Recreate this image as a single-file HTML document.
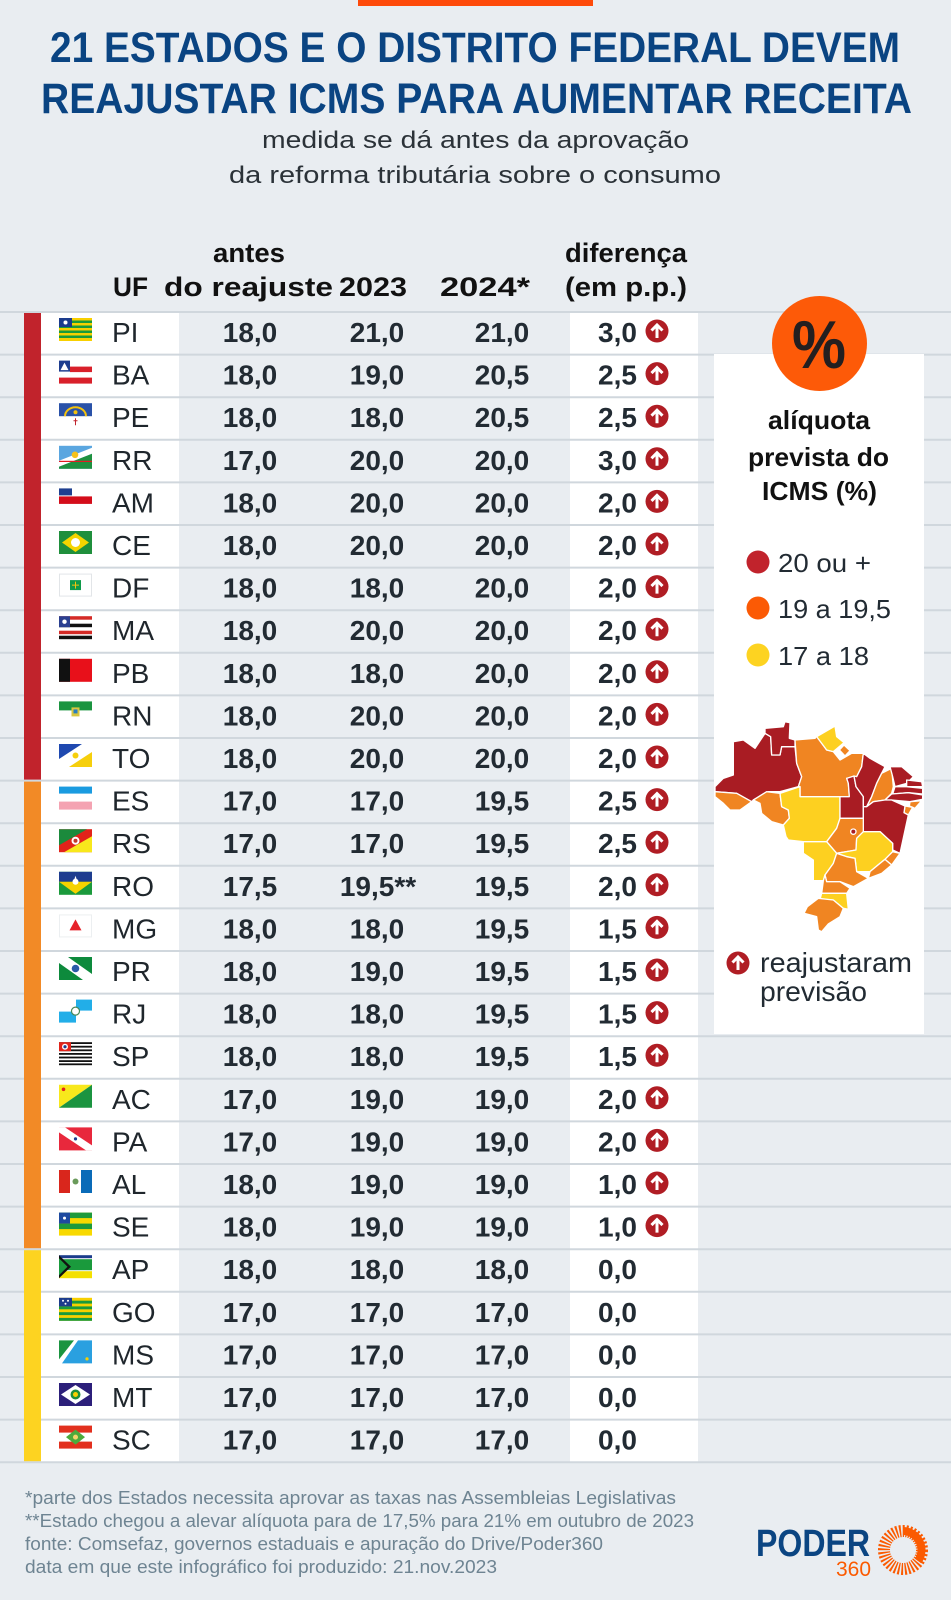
<!DOCTYPE html>
<html><head><meta charset="utf-8"><style>
html,body{margin:0;padding:0;background:#e9edf1;}
svg{display:block;}
text{font-family:"Liberation Sans",Arial,sans-serif;}
.uf{font-size:28px;fill:#1f262c;}
.n{font-size:28px;font-weight:bold;fill:#222b33;text-anchor:middle;}
.h{font-size:27px;font-weight:bold;fill:#111;}
.t{font-size:43px;font-weight:bold;fill:#0a4482;}
.s{font-size:24px;fill:#2b3238;}
.f{font-size:18px;fill:#6e8492;}
.lg{font-size:26px;fill:#222b33;}
.lt{font-size:26px;font-weight:bold;fill:#111;}
</style></head><body>
<svg width="951" height="1600" viewBox="0 0 951 1600" xmlns="http://www.w3.org/2000/svg">
<defs>
<g id="arr"><circle r="11.5" fill="#b01d24"/><path d="M0 7V-5.5M-5.5 -0.5L0 -6L5.5 -0.5" stroke="#fff" stroke-width="3" fill="none" stroke-linecap="butt"/></g>
</defs>
<rect width="951" height="1600" fill="#e9edf1"/>
<rect x="358" y="0" width="235" height="6" fill="#fe4a0a"/>
<text class="t" x="50" y="62" textLength="850" lengthAdjust="spacingAndGlyphs">21 ESTADOS E O DISTRITO FEDERAL DEVEM</text>
<text class="t" x="41" y="113" textLength="871" lengthAdjust="spacingAndGlyphs">REAJUSTAR ICMS PARA AUMENTAR RECEITA</text>
<text class="s" x="262" y="148" textLength="427" lengthAdjust="spacingAndGlyphs">medida se dá antes da aprovação</text>
<text class="s" x="229" y="183" textLength="492" lengthAdjust="spacingAndGlyphs">da reforma tributária sobre o consumo</text>

<text class="h" x="213" y="262" textLength="72" lengthAdjust="spacingAndGlyphs">antes</text>
<text class="h" x="565" y="262" textLength="122" lengthAdjust="spacingAndGlyphs">diferença</text>
<text class="h" x="113" y="296" textLength="35" lengthAdjust="spacingAndGlyphs">UF</text>
<text class="h" x="164" y="296" textLength="169" lengthAdjust="spacingAndGlyphs">do reajuste</text>
<text class="h" x="339" y="296" textLength="68" lengthAdjust="spacingAndGlyphs">2023</text>
<text class="h" x="440" y="296" textLength="90" lengthAdjust="spacingAndGlyphs">2024*</text>
<text class="h" x="565" y="296" textLength="122" lengthAdjust="spacingAndGlyphs">(em p.p.)</text>

<rect x="41" y="312" width="138" height="1150" fill="#fff"/>
<rect x="570" y="312" width="128" height="1150" fill="#fff"/>
<g stroke="#d0d7dd" stroke-width="2">
<line x1="0" x2="951" y1="312" y2="312"/><line x1="0" x2="951" y1="354.6" y2="354.6"/><line x1="0" x2="951" y1="397.2" y2="397.2"/><line x1="0" x2="951" y1="439.8" y2="439.8"/><line x1="0" x2="951" y1="482.4" y2="482.4"/><line x1="0" x2="951" y1="525" y2="525"/><line x1="0" x2="951" y1="567.6" y2="567.6"/><line x1="0" x2="951" y1="610.2" y2="610.2"/><line x1="0" x2="951" y1="652.8" y2="652.8"/><line x1="0" x2="951" y1="695.4" y2="695.4"/><line x1="0" x2="951" y1="738" y2="738"/><line x1="0" x2="951" y1="780.6" y2="780.6"/><line x1="0" x2="951" y1="823.2" y2="823.2"/><line x1="0" x2="951" y1="865.8" y2="865.8"/><line x1="0" x2="951" y1="908.4" y2="908.4"/><line x1="0" x2="951" y1="951" y2="951"/><line x1="0" x2="951" y1="993.6" y2="993.6"/><line x1="0" x2="951" y1="1036.2" y2="1036.2"/><line x1="0" x2="951" y1="1078.8" y2="1078.8"/><line x1="0" x2="951" y1="1121.4" y2="1121.4"/><line x1="0" x2="951" y1="1164" y2="1164"/><line x1="0" x2="951" y1="1206.6" y2="1206.6"/><line x1="0" x2="951" y1="1249.2" y2="1249.2"/><line x1="0" x2="951" y1="1291.8" y2="1291.8"/><line x1="0" x2="951" y1="1334.4" y2="1334.4"/><line x1="0" x2="951" y1="1377" y2="1377"/><line x1="0" x2="951" y1="1419.6" y2="1419.6"/><line x1="0" x2="951" y1="1462.2" y2="1462.2"/>
</g>
<rect x="24" y="313" width="17" height="466.6" fill="#c1232c"/>
<rect x="24" y="781.6" width="17" height="466.6" fill="#f28a26"/>
<rect x="24" y="1250.2" width="17" height="211" fill="#fdd321"/>

<!-- Legend panel -->
<rect x="714" y="354" width="210" height="680" fill="#fff"/>
<circle cx="819.5" cy="343.5" r="47.5" fill="#fd5a08"/>
<text x="792" y="368" font-size="68" font-weight="bold" fill="#231f20" textLength="54" lengthAdjust="spacingAndGlyphs">%</text>
<text class="lt" x="768" y="429" textLength="102" lengthAdjust="spacingAndGlyphs">alíquota</text>
<text class="lt" x="748" y="466" textLength="141" lengthAdjust="spacingAndGlyphs">prevista do</text>
<text class="lt" x="762" y="500" textLength="115" lengthAdjust="spacingAndGlyphs">ICMS (%)</text>
<circle cx="758" cy="562" r="11.5" fill="#c1232c"/>
<circle cx="758" cy="608" r="11.5" fill="#fb5a05"/>
<circle cx="758" cy="655" r="11.5" fill="#fdd321"/>
<text class="lg" x="778" y="572" textLength="93" lengthAdjust="spacingAndGlyphs">20 ou +</text>
<text class="lg" x="778" y="618" textLength="113" lengthAdjust="spacingAndGlyphs">19 a 19,5</text>
<text class="lg" x="778" y="665" textLength="91" lengthAdjust="spacingAndGlyphs">17 a 18</text>

<!-- Map -->
<g transform="translate(700,520) scale(0.33333)" stroke="#fff" stroke-width="4" stroke-linejoin="round">
<polygon fill="#a91c23" points="45,800 70,775 100,765 100,665 130,660 165,685 195,640 212,650 215,705 240,705 245,680 285,680 290,730 305,770 295,800 240,815 205,815 160,840 155,845 110,820 45,815"/>
<polygon fill="#a91c23" points="195,640 195,625 250,620 255,605 270,608 268,655 285,660 285,680 245,680 240,705 215,705 212,650"/>
<polygon fill="#f08522" points="285,660 345,655 350,648 380,690 400,695 420,720 455,700 490,700 485,740 470,770 440,775 445,790 448,830 420,830 300,830 300,800 295,800 305,770 290,730"/>
<polygon fill="#fdd020" points="350,650 405,618 410,650 432,668 400,695 380,690"/>
<polygon fill="#f08522" points="418,690 432,675 450,692 435,708"/>
<polygon fill="#f08522" points="45,815 110,820 155,845 120,870 90,870 70,850 45,830"/>
<polygon fill="#f08522" points="160,840 200,815 240,820 245,860 265,870 268,895 250,915 215,905 185,880 180,850"/>
<polygon fill="#fdd020" points="240,820 300,800 300,830 420,830 420,895 410,925 380,965 310,965 265,960 258,950 250,915 268,895 265,870 245,860"/>
<polygon fill="#a91c23" points="440,775 462,768 468,800 490,830 490,895 420,895 420,830 448,830 445,790"/>
<polygon fill="#a91c23" points="470,770 485,740 490,700 510,715 555,740 545,760 530,790 515,830 500,860 490,860 490,830 468,800 462,768"/>
<polygon fill="#f08522" points="545,760 575,745 580,800 575,820 555,840 520,845 500,860 515,830 530,790"/>
<polygon fill="#a91c23" points="570,740 605,740 640,770 620,790 585,800 578,770"/>
<polygon fill="#a91c23" points="620,780 665,785 668,800 620,800"/>
<polygon fill="#a91c23" points="585,800 620,800 668,805 668,822 625,818 578,822"/>
<polygon fill="#a91c23" points="575,822 625,818 668,825 668,838 630,845 575,840 555,840"/>
<polygon fill="#f08522" points="630,845 665,842 645,865 628,858"/>
<polygon fill="#f08522" points="615,858 638,862 625,885 612,878"/>
<polygon fill="#a91c23" points="490,860 500,860 520,845 555,840 575,840 615,858 612,878 625,885 600,1000 578,990 578,970 540,935 490,935 490,895"/>
<polygon fill="#f08522" points="420,895 490,895 490,935 470,955 468,990 410,1000 380,965 410,925"/>
<polygon fill="#fdd020" points="410,1000 468,990 470,955 490,935 540,935 578,970 578,995 555,1018 540,1030 510,1055 470,1055 465,1015 440,1010"/>
<polygon fill="#f08522" points="578,995 600,1000 575,1035 555,1018"/>
<polygon fill="#f08522" points="510,1055 540,1030 555,1018 575,1035 545,1060 505,1075"/>
<polygon fill="#fdd020" points="310,965 380,965 410,1000 400,1030 375,1065 370,1082 340,1082 340,1020 310,1000"/>
<polygon fill="#f08522" points="410,1000 440,1010 465,1015 470,1055 505,1075 460,1100 420,1085 380,1085 375,1065 400,1030"/>
<polygon fill="#f08522" points="375,1065 380,1085 420,1085 450,1105 440,1120 365,1120 370,1082"/>
<polygon fill="#fdd020" points="365,1120 440,1120 445,1168 430,1165 400,1140 360,1138"/>
<polygon fill="#f08522" points="355,1135 400,1140 430,1165 420,1190 385,1212 365,1235 355,1230 350,1190 312,1180 322,1160"/>
<circle cx="460" cy="935" r="8" fill="#a91c23"/>
</g>
<use href="#arr" x="738" y="963"/>
<text x="760" y="972" font-size="28" fill="#222b33" textLength="152" lengthAdjust="spacingAndGlyphs">reajustaram</text>
<text x="760" y="1001" font-size="28" fill="#222b33" textLength="107" lengthAdjust="spacingAndGlyphs">previsão</text>

<!-- Rows -->
<g transform="translate(0,312)"><g transform="translate(59,6)"><rect width="33" height="23" fill="#f8d000"/><rect y="2.5" width="33" height="2.5" fill="#1a9a3c"/><rect y="7.5" width="33" height="2.5" fill="#1a9a3c"/><rect y="12.5" width="33" height="2.5" fill="#1a9a3c"/><rect y="17.5" width="33" height="2.5" fill="#1a9a3c"/><rect width="13" height="9" fill="#1c3c8c"/><circle cx="6.5" cy="4.5" r="2" fill="#fff"/></g><text class="uf" x="112" y="30">PI</text><text class="n" x="250" y="30">18,0</text><text class="n" x="377" y="30">21,0</text><text class="n" x="502" y="30">21,0</text><text class="n" x="617.5" y="30">3,0</text><use href="#arr" x="657" y="19"/></g>
<g transform="translate(0,354.6)"><g transform="translate(59,6)"><rect width="33" height="23" fill="#fff"/><rect x="11" y="6" width="22" height="5.5" fill="#d9202a"/><rect y="17" width="33" height="6" fill="#d9202a"/><rect width="11" height="11" fill="#1e3d8f"/><polygon points="1.5,9.5 5.5,2 9.5,9.5" fill="#fff"/></g><text class="uf" x="112" y="30">BA</text><text class="n" x="250" y="30">18,0</text><text class="n" x="377" y="30">19,0</text><text class="n" x="502" y="30">20,5</text><text class="n" x="617.5" y="30">2,5</text><use href="#arr" x="657" y="19"/></g>
<g transform="translate(0,397.2)"><g transform="translate(59,6)"><rect width="33" height="23" fill="#fff"/><rect width="33" height="13" fill="#2a52a8"/><path d="M6 13a10.5 9 0 0 1 21 0" fill="none" stroke="#f4c20d" stroke-width="2"/><circle cx="16.5" cy="9" r="2" fill="#f4c20d"/><path d="M16.5 15v7M14.5 17.5h4" stroke="#c0232c" stroke-width="1"/></g><text class="uf" x="112" y="30">PE</text><text class="n" x="250" y="30">18,0</text><text class="n" x="377" y="30">18,0</text><text class="n" x="502" y="30">20,5</text><text class="n" x="617.5" y="30">2,5</text><use href="#arr" x="657" y="19"/></g>
<g transform="translate(0,439.8)"><g transform="translate(59,6)"><rect width="33" height="23" fill="#5aa6e0"/><polygon points="0,15 33,2 33,8 0,21" fill="#fff"/><polygon points="0,21 33,8 33,23 0,23" fill="#1e9140"/><rect y="15" width="33" height="1.2" fill="#e21b23"/><circle cx="16" cy="9" r="3.3" fill="#f6c21b"/></g><text class="uf" x="112" y="30">RR</text><text class="n" x="250" y="30">17,0</text><text class="n" x="377" y="30">20,0</text><text class="n" x="502" y="30">20,0</text><text class="n" x="617.5" y="30">3,0</text><use href="#arr" x="657" y="19"/></g>
<g transform="translate(0,482.4)"><g transform="translate(59,6)"><rect width="33" height="23" fill="#fff"/><rect y="8" width="33" height="7.5" fill="#d40d1a"/><rect width="13" height="7" fill="#1f3f90"/></g><text class="uf" x="112" y="30">AM</text><text class="n" x="250" y="30">18,0</text><text class="n" x="377" y="30">20,0</text><text class="n" x="502" y="30">20,0</text><text class="n" x="617.5" y="30">2,0</text><use href="#arr" x="657" y="19"/></g>
<g transform="translate(0,525)"><g transform="translate(59,6)"><rect width="33" height="23" fill="#1f8f3c"/><polygon points="3,11.5 16.5,2 30,11.5 16.5,21" fill="#f5d400"/><circle cx="16.5" cy="11.5" r="4.5" fill="#fff"/></g><text class="uf" x="112" y="30">CE</text><text class="n" x="250" y="30">18,0</text><text class="n" x="377" y="30">20,0</text><text class="n" x="502" y="30">20,0</text><text class="n" x="617.5" y="30">2,0</text><use href="#arr" x="657" y="19"/></g>
<g transform="translate(0,567.6)"><g transform="translate(59,6)"><rect x="0.5" y="0.5" width="32" height="22" fill="#fff" stroke="#e2e5e8"/><rect x="11" y="6.5" width="11" height="10" fill="#0f9a4a"/><path d="M16.5 8v7M13 11.5h7" stroke="#f4c20d" stroke-width="1"/></g><text class="uf" x="112" y="30">DF</text><text class="n" x="250" y="30">18,0</text><text class="n" x="377" y="30">18,0</text><text class="n" x="502" y="30">20,0</text><text class="n" x="617.5" y="30">2,0</text><use href="#arr" x="657" y="19"/></g>
<g transform="translate(0,610.2)"><g transform="translate(59,6)"><rect width="33" height="23" fill="#fff"/><rect y="0" width="33" height="3.5" fill="#d42a26"/><rect y="7.5" width="33" height="3.5" fill="#111"/><rect y="14.5" width="33" height="3.5" fill="#d42a26"/><rect y="19.5" width="33" height="3.5" fill="#111"/><rect width="11" height="11" fill="#2a3f90"/><circle cx="5.5" cy="5.5" r="2.2" fill="#fff"/></g><text class="uf" x="112" y="30">MA</text><text class="n" x="250" y="30">18,0</text><text class="n" x="377" y="30">20,0</text><text class="n" x="502" y="30">20,0</text><text class="n" x="617.5" y="30">2,0</text><use href="#arr" x="657" y="19"/></g>
<g transform="translate(0,652.8)"><g transform="translate(59,6)"><rect width="33" height="23" fill="#e8101a"/><rect width="11" height="23" fill="#111"/></g><text class="uf" x="112" y="30">PB</text><text class="n" x="250" y="30">18,0</text><text class="n" x="377" y="30">18,0</text><text class="n" x="502" y="30">20,0</text><text class="n" x="617.5" y="30">2,0</text><use href="#arr" x="657" y="19"/></g>
<g transform="translate(0,695.4)"><g transform="translate(59,6)"><rect width="33" height="23" fill="#fff"/><rect width="33" height="9" fill="#1b9440"/><rect x="12.5" y="6" width="8" height="9" fill="#d8c640"/><rect x="14.5" y="8" width="4" height="4" fill="#2a7fc0"/></g><text class="uf" x="112" y="30">RN</text><text class="n" x="250" y="30">18,0</text><text class="n" x="377" y="30">20,0</text><text class="n" x="502" y="30">20,0</text><text class="n" x="617.5" y="30">2,0</text><use href="#arr" x="657" y="19"/></g>
<g transform="translate(0,738)"><g transform="translate(59,6)"><rect width="33" height="23" fill="#fff"/><polygon points="0,0 23,0 0,15" fill="#1f49b0"/><polygon points="33,8 33,23 10,23" fill="#f6cf0c"/><circle cx="16.5" cy="11.5" r="3" fill="#f6cf0c"/></g><text class="uf" x="112" y="30">TO</text><text class="n" x="250" y="30">18,0</text><text class="n" x="377" y="30">20,0</text><text class="n" x="502" y="30">20,0</text><text class="n" x="617.5" y="30">2,0</text><use href="#arr" x="657" y="19"/></g>
<g transform="translate(0,780.6)"><g transform="translate(59,6)"><rect width="33" height="23" fill="#fff"/><rect width="33" height="7" fill="#1a9be0"/><rect y="15" width="33" height="8" fill="#f4a3b2"/></g><text class="uf" x="112" y="30">ES</text><text class="n" x="250" y="30">17,0</text><text class="n" x="377" y="30">17,0</text><text class="n" x="502" y="30">19,5</text><text class="n" x="617.5" y="30">2,5</text><use href="#arr" x="657" y="19"/></g>
<g transform="translate(0,823.2)"><g transform="translate(59,6)"><rect width="33" height="23" fill="#e2231a"/><polygon points="0,0 28,0 0,16" fill="#1b8a3c"/><polygon points="33,7 33,23 5,23" fill="#f8e81c"/><circle cx="16.5" cy="11.5" r="4" fill="#fff"/><circle cx="16.5" cy="11.5" r="2" fill="#c3392b"/></g><text class="uf" x="112" y="30">RS</text><text class="n" x="250" y="30">17,0</text><text class="n" x="377" y="30">17,0</text><text class="n" x="502" y="30">19,5</text><text class="n" x="617.5" y="30">2,5</text><use href="#arr" x="657" y="19"/></g>
<g transform="translate(0,865.8)"><g transform="translate(59,6)"><rect width="33" height="23" fill="#1b9a3c"/><rect width="33" height="10" fill="#1e3d8f"/><polygon points="0,10 33,10 16.5,22" fill="#f6d200"/><polygon points="16.5,4 18.5,10 14.5,10" fill="#fff"/><circle cx="16.5" cy="10" r="3" fill="#fff"/></g><text class="uf" x="112" y="30">RO</text><text class="n" x="250" y="30">17,5</text><text class="n" x="378" y="30">19,5**</text><text class="n" x="502" y="30">19,5</text><text class="n" x="617.5" y="30">2,0</text><use href="#arr" x="657" y="19"/></g>
<g transform="translate(0,908.4)"><g transform="translate(59,6)"><rect x="0.5" y="0.5" width="32" height="22" fill="#fff" stroke="#eceff1"/><polygon points="10.5,16 16.5,5 22.5,16" fill="#e6222a"/></g><text class="uf" x="112" y="30">MG</text><text class="n" x="250" y="30">18,0</text><text class="n" x="377" y="30">18,0</text><text class="n" x="502" y="30">19,5</text><text class="n" x="617.5" y="30">1,5</text><use href="#arr" x="657" y="19"/></g>
<g transform="translate(0,951)"><g transform="translate(59,6)"><rect width="33" height="23" fill="#0d8a3c"/><polygon points="0,0 9,0 33,17 33,23 24,23 0,6" fill="#fff"/><circle cx="16.5" cy="11.5" r="3.8" fill="#2a5aa8"/></g><text class="uf" x="112" y="30">PR</text><text class="n" x="250" y="30">18,0</text><text class="n" x="377" y="30">19,0</text><text class="n" x="502" y="30">19,5</text><text class="n" x="617.5" y="30">1,5</text><use href="#arr" x="657" y="19"/></g>
<g transform="translate(0,993.6)"><g transform="translate(59,6)"><rect width="33" height="23" fill="#fff"/><rect x="17" width="16" height="11" fill="#22aee8"/><rect y="12" width="17" height="11" fill="#22aee8"/><circle cx="16.5" cy="11.5" r="4" fill="#fff" stroke="#4a8a5a" stroke-width="1.2"/></g><text class="uf" x="112" y="30">RJ</text><text class="n" x="250" y="30">18,0</text><text class="n" x="377" y="30">18,0</text><text class="n" x="502" y="30">19,5</text><text class="n" x="617.5" y="30">1,5</text><use href="#arr" x="657" y="19"/></g>
<g transform="translate(0,1036.2)"><g transform="translate(59,6)"><rect width="33" height="23" fill="#fff"/><rect y="0" width="33" height="1.8" fill="#111"/><rect y="3.6" width="33" height="1.8" fill="#111"/><rect y="7.2" width="33" height="1.8" fill="#111"/><rect y="10.8" width="33" height="1.8" fill="#111"/><rect y="14.4" width="33" height="1.8" fill="#111"/><rect y="18" width="33" height="1.8" fill="#111"/><rect y="21.2" width="33" height="1.8" fill="#111"/><rect width="12" height="9" fill="#e2231a"/><circle cx="6" cy="4.5" r="3" fill="#fff"/><circle cx="6" cy="4.5" r="1.6" fill="#1e3d8f"/></g><text class="uf" x="112" y="30">SP</text><text class="n" x="250" y="30">18,0</text><text class="n" x="377" y="30">18,0</text><text class="n" x="502" y="30">19,5</text><text class="n" x="617.5" y="30">1,5</text><use href="#arr" x="657" y="19"/></g>
<g transform="translate(0,1078.8)"><g transform="translate(59,6)"><polygon points="0,0 33,0 0,23" fill="#f8e81c"/><polygon points="33,0 33,23 0,23" fill="#1b9440"/><circle cx="4.5" cy="4.5" r="1.8" fill="#e2231a"/></g><text class="uf" x="112" y="30">AC</text><text class="n" x="250" y="30">17,0</text><text class="n" x="377" y="30">19,0</text><text class="n" x="502" y="30">19,0</text><text class="n" x="617.5" y="30">2,0</text><use href="#arr" x="657" y="19"/></g>
<g transform="translate(0,1121.4)"><g transform="translate(59,6)"><rect width="33" height="23" fill="#e8283c"/><polygon points="0,0 6,0 33,18 33,23 27,23 0,5" fill="#fff" transform="translate(0,0) scale(1,1)"/><circle cx="16.5" cy="11.5" r="1.6" fill="#1e3d8f"/></g><text class="uf" x="112" y="30">PA</text><text class="n" x="250" y="30">17,0</text><text class="n" x="377" y="30">19,0</text><text class="n" x="502" y="30">19,0</text><text class="n" x="617.5" y="30">2,0</text><use href="#arr" x="657" y="19"/></g>
<g transform="translate(0,1164)"><g transform="translate(59,6)"><rect width="33" height="23" fill="#fff"/><rect width="11" height="23" fill="#d9261c"/><rect x="22" width="11" height="23" fill="#0a6bb8"/><circle cx="16.5" cy="11.5" r="3" fill="#6a9a5a"/></g><text class="uf" x="112" y="30">AL</text><text class="n" x="250" y="30">18,0</text><text class="n" x="377" y="30">19,0</text><text class="n" x="502" y="30">19,0</text><text class="n" x="617.5" y="30">1,0</text><use href="#arr" x="657" y="19"/></g>
<g transform="translate(0,1206.6)"><g transform="translate(59,6)"><rect width="33" height="23" fill="#f8d900"/><rect width="33" height="5.5" fill="#1e9a3c"/><rect y="11" width="33" height="5.5" fill="#1e9a3c"/><rect width="11" height="11" fill="#1e4aa0"/><circle cx="5.5" cy="5.5" r="1.5" fill="#fff"/></g><text class="uf" x="112" y="30">SE</text><text class="n" x="250" y="30">18,0</text><text class="n" x="377" y="30">19,0</text><text class="n" x="502" y="30">19,0</text><text class="n" x="617.5" y="30">1,0</text><use href="#arr" x="657" y="19"/></g>
<g transform="translate(0,1249.2)"><g transform="translate(59,6)"><rect width="33" height="23" fill="#fff"/><rect width="33" height="3" fill="#1b3b8c"/><rect y="4" width="33" height="11" fill="#1a9a3c"/><rect y="16" width="33" height="7" fill="#f4e000"/><polygon points="0,0 12,11.5 0,23" fill="#111"/><polygon points="0,3 8.5,11.5 0,20" fill="#1a9a3c"/></g><text class="uf" x="112" y="30">AP</text><text class="n" x="250" y="30">18,0</text><text class="n" x="377" y="30">18,0</text><text class="n" x="502" y="30">18,0</text><text class="n" x="617.5" y="30">0,0</text></g>
<g transform="translate(0,1291.8)"><g transform="translate(59,6)"><rect width="33" height="23" fill="#f8d000"/><rect y="2.9" width="33" height="2.9" fill="#1a9a3c"/><rect y="8.6" width="33" height="2.9" fill="#1a9a3c"/><rect y="14.4" width="33" height="2.9" fill="#1a9a3c"/><rect y="20.1" width="33" height="2.9" fill="#1a9a3c"/><rect width="13" height="8.6" fill="#1c3c8c"/><circle cx="4" cy="3" r="1" fill="#fff"/><circle cx="9" cy="3" r="1" fill="#fff"/><circle cx="6.5" cy="6" r="1" fill="#fff"/></g><text class="uf" x="112" y="30">GO</text><text class="n" x="250" y="30">17,0</text><text class="n" x="377" y="30">17,0</text><text class="n" x="502" y="30">17,0</text><text class="n" x="617.5" y="30">0,0</text></g>
<g transform="translate(0,1334.4)"><g transform="translate(59,6)"><rect width="33" height="23" fill="#fff"/><polygon points="0,0 15,0 0,19" fill="#1b9440"/><polygon points="19,0 33,0 33,23 3,23" fill="#2aa0e0"/><circle cx="28" cy="18.5" r="1.6" fill="#f8d000"/></g><text class="uf" x="112" y="30">MS</text><text class="n" x="250" y="30">17,0</text><text class="n" x="377" y="30">17,0</text><text class="n" x="502" y="30">17,0</text><text class="n" x="617.5" y="30">0,0</text></g>
<g transform="translate(0,1377)"><g transform="translate(59,6)"><rect width="33" height="23" fill="#2c1f7a"/><polygon points="2,11.5 16.5,2 31,11.5 16.5,21" fill="#fff"/><circle cx="16.5" cy="11.5" r="5" fill="#1f8f3c"/><circle cx="16.5" cy="11.5" r="2.5" fill="#f8d000"/></g><text class="uf" x="112" y="30">MT</text><text class="n" x="250" y="30">17,0</text><text class="n" x="377" y="30">17,0</text><text class="n" x="502" y="30">17,0</text><text class="n" x="617.5" y="30">0,0</text></g>
<g transform="translate(0,1419.6)"><g transform="translate(59,6)"><rect width="33" height="23" fill="#fff"/><rect width="33" height="7" fill="#e2301e"/><rect y="16" width="33" height="7" fill="#e2301e"/><polygon points="7,11.5 16.5,4 26,11.5 16.5,19" fill="#4caa3c"/><circle cx="16.5" cy="11.5" r="2.5" fill="#f3d46a"/></g><text class="uf" x="112" y="30">SC</text><text class="n" x="250" y="30">17,0</text><text class="n" x="377" y="30">17,0</text><text class="n" x="502" y="30">17,0</text><text class="n" x="617.5" y="30">0,0</text></g>

<!-- Footer -->
<text class="f" x="25" y="1504" textLength="651" lengthAdjust="spacingAndGlyphs">*parte dos Estados necessita aprovar as taxas nas Assembleias Legislativas</text>
<text class="f" x="25" y="1527" textLength="669" lengthAdjust="spacingAndGlyphs">**Estado chegou a alevar alíquota para de 17,5% para 21% em outubro de 2023</text>
<text class="f" x="25" y="1550" textLength="578" lengthAdjust="spacingAndGlyphs">fonte: Comsefaz, governos estaduais e apuração do Drive/Poder360</text>
<text class="f" x="25" y="1573" textLength="472" lengthAdjust="spacingAndGlyphs">data em que este infográfico foi produzido: 21.nov.2023</text>

<!-- Logo -->
<text x="756" y="1556" font-size="38" font-weight="bold" fill="#0b4582" textLength="114" lengthAdjust="spacingAndGlyphs">PODER</text>
<text x="836" y="1576" font-size="21" fill="#fb5a00" textLength="35" lengthAdjust="spacingAndGlyphs">360</text>
<circle cx="903" cy="1550" r="19" fill="none" stroke="#fb5a00" stroke-width="12" stroke-dasharray="1.7 1.6"/>
<path d="M903 1531 A19 19 0 0 1 918 1561" fill="none" stroke="#fb5a00" stroke-width="8"/>
</svg>
</body></html>
